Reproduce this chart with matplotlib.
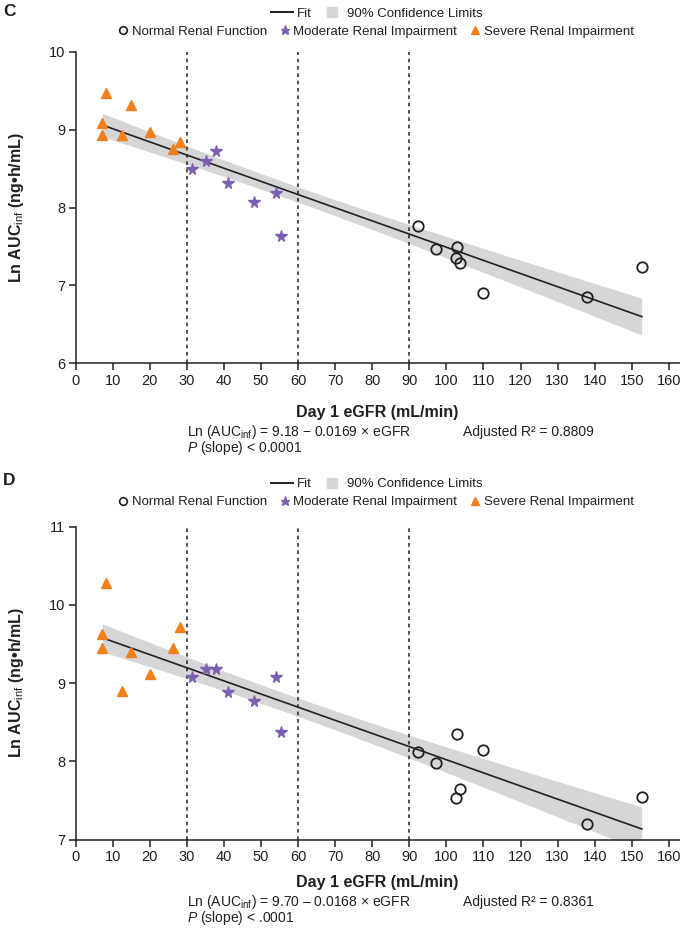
import numpy as np
import matplotlib
matplotlib.use("Agg")
import matplotlib.pyplot as plt
from matplotlib.lines import Line2D

plt.rcParams['font.family'] = ['Liberation Sans', 'DejaVu Sans']
plt.rcParams['mathtext.fontset'] = 'custom'
plt.rcParams['mathtext.rm'] = 'Liberation Sans'
plt.rcParams['mathtext.it'] = 'Liberation Sans:italic'
plt.rcParams['mathtext.bf'] = 'Liberation Sans:bold'

# eGFR (mL/min) per group, same subjects in both panels
egfr_severe = [8.2, 7.2, 7.2, 14.9, 12.6, 20.0, 26.2, 28.1]
egfr_moderate = [31.5, 35.2, 37.8, 41.2, 48.2, 54.1, 55.4]
egfr_normal = [92.3, 97.2, 102.9, 102.7, 103.7, 110.0, 137.8, 152.7]

# Panel C: Ln AUCinf
auc_c_severe = [9.47, 9.09, 8.93, 9.32, 8.93, 8.97, 8.75, 8.84]
auc_c_moderate = [8.50, 8.60, 8.73, 8.32, 8.07, 8.18, 7.63]
auc_c_normal = [7.76, 7.47, 7.49, 7.35, 7.29, 6.90, 6.85, 7.24]

# Panel D: Ln AUCinf
auc_d_severe = [10.28, 9.63, 9.45, 9.40, 8.90, 9.12, 9.45, 9.72]
auc_d_moderate = [9.08, 9.18, 9.18, 8.89, 8.77, 9.08, 8.37]
auc_d_normal = [8.12, 7.98, 8.35, 7.53, 7.65, 8.14, 7.20, 7.54]

# reported regression
panel_labels = ['C', 'D']
intercepts = [9.18, 9.70]
slopes = [-0.0169, -0.0168]
equations = [r'Ln (AUC$_{\mathrm{inf}}$) = 9.18 $-$ 0.0169 × eGFR',
             r'Ln (AUC$_{\mathrm{inf}}$) = 9.70 – 0.0168 × eGFR']
r2_texts = ['Adjusted R² = 0.8809', 'Adjusted R² = 0.8361']
p_texts = [r'$\mathit{P}$ (slope) < 0.0001', r'$\mathit{P}$ (slope) < .0001']
y_limits = [(6, 10), (7, 11)]
y_ticks = [[6, 7, 8, 9, 10], [7, 8, 9, 10, 11]]
x_ticks = list(range(0, 161, 10))
cutoffs = [30, 60, 90]

ORANGE = '#f07f1c'
PURPLE = '#7d5fb2'
BAND = '#d6d6d8'
INK = '#231f20'

W, H = 680, 936


def fx(px):
    return px / W


def fy(py):
    return 1 - py / H


fig = plt.figure(figsize=(6.8, 9.36), dpi=100)

axes_px = [(51.7, 363.3), (526.7, 839.5)]
offsets = [0, 470]

data_sets = [
    (auc_c_severe, auc_c_moderate, auc_c_normal),
    (auc_d_severe, auc_d_moderate, auc_d_normal),
]

for i in range(2):
    top, bot = axes_px[i]
    ax = fig.add_axes([fx(75.7), fy(bot), fx(680 - 75.7), (bot - top) / H])
    sev, mod, nor = data_sets[i]

    x_all = np.array(egfr_severe + egfr_moderate + egfr_normal)
    y_all = np.array(sev + mod + nor)
    b0, b1 = intercepts[i], slopes[i]
    n = len(x_all)
    resid = y_all - (b0 + b1 * x_all)
    s = np.sqrt(np.sum(resid ** 2) / (n - 2))
    xbar = x_all.mean()
    sxx = np.sum((x_all - xbar) ** 2)
    t90 = 1.721
    xs = np.linspace(x_all.min(), x_all.max(), 200)
    fit = b0 + b1 * xs
    hw = t90 * s * np.sqrt(1 / n + (xs - xbar) ** 2 / sxx)

    ax.fill_between(xs, fit - hw, fit + hw, color=BAND, lw=0, zorder=1)
    ax.plot(xs, fit, color=INK, lw=1.2, zorder=3)
    for c in cutoffs:
        ax.axvline(c, color=INK, lw=1.1, ls=(0, (2.4, 2.4)), zorder=2)

    ax.plot(egfr_severe, sev, ls='none', marker='^', ms=7, color=ORANGE,
            mec=ORANGE, zorder=4)
    ax.plot(egfr_moderate, mod, ls='none', marker='*', ms=8.5, color=PURPLE,
            mec=PURPLE, zorder=4)
    ax.plot(egfr_normal, nor, ls='none', marker='o', ms=7.5, mfc='none',
            mec=INK, mew=1.3, zorder=4)

    ax.set_xlim(0, (680 - 75.7) / 3.707)
    ax.set_ylim(*y_limits[i])
    ax.set_xticks(x_ticks)
    ax.set_yticks(y_ticks[i])
    for side in ['top', 'right']:
        ax.spines[side].set_visible(False)
    for side in ['left', 'bottom']:
        ax.spines[side].set_color(INK)
        ax.spines[side].set_linewidth(1.1)
    ax.tick_params(direction='out', length=5, width=1.1, color=INK,
                   labelsize=10.5, pad=2.5, labelcolor=INK)

    ax.set_ylabel(r'Ln AUC$_{\mathrm{inf}}$ (ng•h/mL)', fontsize=11.5,
                  fontweight='bold', color=INK)
    ax.yaxis.set_label_coords((26 - 75.7) / (680 - 75.7), 0.5)

    off = offsets[i]
    fig.text(fx(3), fy(off + 11), panel_labels[i], fontsize=12.5,
             fontweight='bold', va='center', ha='left', color=INK)
    fig.text(fx(377), fy(413 + off), 'Day 1 eGFR (mL/min)', fontsize=11.5,
             fontweight='bold', ha='center', va='center', color=INK)
    fig.text(fx(186.7), fy(431.7 + off), equations[i], fontsize=10,
             ha='left', va='center', color=INK)
    fig.text(fx(463), fy(431.7 + off), r2_texts[i], fontsize=10,
             ha='left', va='center', color=INK)
    fig.text(fx(186.7), fy(448.3 + off), p_texts[i], fontsize=10,
             ha='left', va='center', color=INK)

    # legends
    h_fit = Line2D([], [], color=INK, lw=1.4)
    h_ci = Line2D([], [], ls='none', marker='s', ms=6.5, color=BAND)
    leg1 = fig.legend([h_fit, h_ci], ['Fit', '90% Confidence Limits'],
                      loc='center', bbox_to_anchor=(fx(377), fy(off + 14)),
                      ncol=2, frameon=False, fontsize=9.5, handlelength=1.6,
                      handletextpad=0.35, columnspacing=0.7, borderpad=0,
                      borderaxespad=0)
    h_n = Line2D([], [], ls='none', marker='o', ms=5.5, mfc='none', mec=INK,
                 mew=1.2)
    h_m = Line2D([], [], ls='none', marker='*', ms=6.5, color=PURPLE)
    h_s = Line2D([], [], ls='none', marker='^', ms=5.5, color=ORANGE)
    leg2 = fig.legend([h_n, h_m, h_s],
                      ['Normal Renal Function', 'Moderate Renal Impairment',
                       'Severe Renal Impairment'],
                      loc='center', bbox_to_anchor=(fx(376), fy(off + 32)),
                      ncol=3, frameon=False, fontsize=9.5, handlelength=0.7,
                      handletextpad=0.3, columnspacing=1.0, borderpad=0,
                      borderaxespad=0)
    for leg in (leg1, leg2):
        for t in leg.get_texts():
            t.set_color(INK)

fig.savefig('out.png', dpi=100)
